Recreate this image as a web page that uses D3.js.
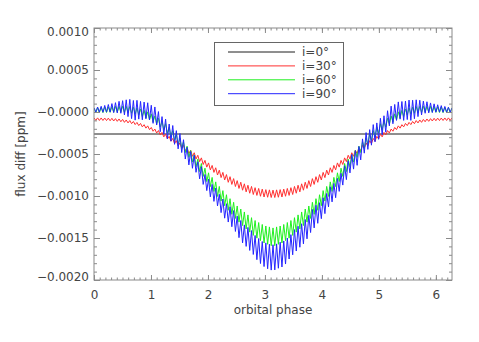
<!DOCTYPE html>
<html><head><meta charset="utf-8">
<script src="https://cdn.jsdelivr.net/npm/d3@7"></script>
<style>body{margin:0;background:#fff} svg{display:block}</style>
</head><body>
<svg id="c" width="479" height="342"></svg>
<script>
// values of the three rippled curves are in units of 1e-4 (flux diff)
const UNIT = 1e-4;
const yTickValues = [0.0010, 0.0005, 0, -0.0005, -0.0010, -0.0015, -0.0020];
const yTickLabels = ["0.0010", "0.0005", "\u22120.0000", "\u22120.0005", "\u22120.0010", "\u22120.0015", "\u22120.0020"];
const xTickValues = [0, 1, 2, 3, 4, 5, 6];
const xTickLabels = ["0", "1", "2", "3", "4", "5", "6"];
const seriesNames = ["i=0\u00b0", "i=30\u00b0", "i=60\u00b0", "i=90\u00b0"];
const seriesColors = ["#1e1e1e", "#ff3030", "#20f020", "#2424ff"];

const i0Phase = [0, 6.2832];
const i0 = [-2.62, -2.62];

const i30 = [
-0.70,-1.00,-0.70,-1.01,-0.71,-1.01,-0.72,-1.02,-0.73,-1.04,
-0.75,-1.07,-0.79,-1.11,-0.83,-1.16,-0.88,-1.23,-0.95,-1.30,
-1.02,-1.39,-1.13,-1.50,-1.24,-1.62,-1.36,-1.77,-1.51,-1.92,
-1.65,-2.10,-1.84,-2.29,-2.03,-2.50,-2.21,-2.72,-2.43,-2.96,
-2.64,-3.21,-2.90,-3.48,-3.15,-3.75,-3.41,-4.04,-3.69,-4.33,
-3.96,-4.64,-4.25,-4.96,-4.55,-5.27,-4.85,-5.59,-5.15,-5.91,
-5.46,-6.25,-5.76,-6.56,-6.06,-6.89,-6.36,-7.19,-6.64,-7.50,
-6.92,-7.81,-7.19,-8.09,-7.45,-8.37,-7.70,-8.62,-7.93,-8.87,
-8.17,-9.10,-8.36,-9.31,-8.55,-9.51,-8.72,-9.67,-8.86,-9.82,
-9.01,-9.93,-9.10,-10.03,-9.18,-10.12,-9.24,-10.15,-9.27,-10.18,
-9.30,
-10.18,-9.27,-10.15,-9.24,-10.12,-9.18,-10.03,-9.10,-9.93,-9.01,
-9.82,-8.86,-9.67,-8.72,-9.51,-8.55,-9.31,-8.36,-9.10,-8.17,
-8.87,-7.93,-8.62,-7.70,-8.37,-7.45,-8.09,-7.19,-7.81,-6.92,
-7.50,-6.64,-7.19,-6.36,-6.89,-6.06,-6.56,-5.76,-6.25,-5.46,
-5.91,-5.15,-5.59,-4.85,-5.27,-4.55,-4.96,-4.25,-4.64,-3.96,
-4.33,-3.69,-4.04,-3.41,-3.75,-3.15,-3.48,-2.90,-3.21,-2.64,
-2.96,-2.43,-2.72,-2.21,-2.50,-2.03,-2.29,-1.84,-2.10,-1.65,
-1.92,-1.51,-1.77,-1.36,-1.62,-1.24,-1.50,-1.13,-1.39,-1.02,
-1.30,-0.95,-1.23,-0.88,-1.16,-0.83,-1.11,-0.79,-1.07,-0.75,
-1.04,-0.73,-1.02,-0.72,-1.01,-0.71,-1.01,-0.70,-1.00,-0.70
];

const i60 = [
0.50,-0.09,0.52,-0.08,0.54,-0.07,0.58,-0.06,0.61,-0.04,
0.64,-0.03,0.67,-0.03,0.68,-0.02,0.69,-0.05,0.67,-0.09,
0.65,-0.15,0.57,-0.25,0.49,-0.35,0.36,-0.54,0.19,-0.72,
0.02,-0.94,-0.22,-1.20,-0.47,-1.46,-0.75,-1.79,-1.07,-2.13,
-1.39,-2.52,-1.81,-2.95,-2.22,-3.38,-2.65,-3.85,-3.10,-4.31,
-3.55,-4.83,-4.07,-5.40,-4.58,-5.96,-5.10,-6.52,-5.61,-7.09,
-6.13,-7.67,-6.69,-8.28,-7.24,-8.88,-7.79,-9.46,-8.32,-10.05,
-8.86,-10.61,-9.36,-11.16,-9.85,-11.70,-10.32,-12.18,-10.75,-12.67,
-11.19,-13.11,-11.55,-13.52,-11.90,-13.92,-12.25,-14.30,-12.58,-14.69,
-12.92,-15.02,-13.16,-15.31,-13.39,-15.59,-13.57,-15.75,-13.68,-15.92,
-13.80,
-15.92,-13.68,-15.75,-13.57,-15.59,-13.39,-15.31,-13.16,-15.02,-12.92,
-14.69,-12.58,-14.30,-12.25,-13.92,-11.90,-13.52,-11.55,-13.11,-11.19,
-12.67,-10.75,-12.18,-10.32,-11.70,-9.85,-11.16,-9.36,-10.61,-8.86,
-10.05,-8.32,-9.46,-7.79,-8.88,-7.24,-8.28,-6.69,-7.67,-6.13,
-7.09,-5.61,-6.52,-5.10,-5.96,-4.58,-5.40,-4.07,-4.83,-3.55,
-4.31,-3.10,-3.85,-2.65,-3.38,-2.22,-2.95,-1.81,-2.52,-1.39,
-2.13,-1.07,-1.79,-0.75,-1.46,-0.47,-1.20,-0.22,-0.94,0.02,
-0.72,0.19,-0.54,0.36,-0.35,0.49,-0.25,0.57,-0.15,0.65,
-0.09,0.67,-0.05,0.69,-0.02,0.68,-0.03,0.67,-0.03,0.64,
-0.04,0.61,-0.06,0.58,-0.07,0.54,-0.08,0.52,-0.09,0.50
];

const i90 = [
0.50,-0.01,0.59,-0.01,0.68,-0.03,0.78,-0.01,0.89,-0.01,
1.00,-0.07,1.11,-0.11,1.27,-0.15,1.35,-0.35,1.45,-0.55,
1.50,-0.79,1.37,-0.97,1.39,-0.85,1.26,-0.93,1.18,-0.81,
1.10,-0.95,0.80,-1.35,0.60,-1.55,0.05,-2.35,-0.55,-2.65,
-0.85,-3.19,-1.43,-3.47,-1.61,-3.85,-2.22,-4.39,-2.56,-4.83,
-3.30,-5.60,-4.20,-6.30,-4.70,-6.70,-5.14,-7.18,-5.92,-7.96,
-6.50,-8.62,-7.44,-9.36,-7.98,-10.10,-8.62,-10.64,-9.06,-11.18,
-9.80,-11.98,-10.36,-12.64,-10.92,-13.10,-11.28,-13.66,-11.74,-14.22,
-12.40,-14.96,-12.92,-15.58,-13.44,-16.00,-13.74,-16.48,-14.12,-16.96,
-14.70,-17.58,-15.06,-18.04,-15.42,-18.40,-15.58,-18.66,-15.74,-18.82,
-15.80,
-18.80,-15.70,-18.60,-15.50,-18.45,-15.35,-18.10,-15.00,-17.50,-14.60,
-17.00,-14.00,-16.55,-13.60,-16.10,-13.30,-15.70,-12.80,-15.10,-12.30,
-14.35,-11.60,-13.80,-11.10,-13.25,-10.80,-12.70,-10.20,-12.10,-9.70,
-11.30,-8.90,-10.70,-8.50,-10.20,-7.90,-9.45,-7.30,-8.70,-6.40,
-8.05,-5.80,-7.25,-5.05,-6.80,-4.60,-6.35,-4.10,-5.70,-3.20,
-4.90,-2.45,-4.45,-2.10,-3.95,-1.50,-3.55,-1.30,-3.25,-0.75,
-2.70,-0.45,-2.40,0.15,-1.65,0.70,-1.40,0.90,-1.00,1.20,
-0.85,1.25,-1.00,1.30,-0.90,1.42,-1.00,1.40,-0.80,1.45,
-0.55,1.40,-0.35,1.30,-0.15,1.22,-0.10,1.08,-0.06,0.97,
-0.02,0.86,-0.01,0.76,-0.03,0.66,-0.01,0.57,-0.01,0.48
];

const M = { left: 94, right: 452, top: 28, bottom: 280 };
const svg = d3.select("#c");
const FONT = "'DejaVu Sans', sans-serif";
const TXT = "#444";
const AX = "#8a8a8a";

const x = d3.scaleLinear().domain([0, 2 * Math.PI]).range([M.left, M.right]);
const y = d3.scaleLinear().domain([-0.0020, 0.0010]).range([M.bottom, M.top]);
const sampleIdx = d3.scaleLinear().domain([0, i30.length - 1]).range([0, 2 * Math.PI]);

svg.append("defs").append("clipPath").attr("id", "clip")
  .append("rect").attr("x", M.left).attr("y", M.top).attr("width", M.right - M.left).attr("height", M.bottom - M.top);

const plot = svg.append("g").attr("clip-path", "url(#clip)");

const line0 = d3.line().x((d, i) => x(i0Phase[i])).y(d => y(d * UNIT));
plot.append("path").datum(i0).attr("d", line0)
  .attr("fill", "none").attr("stroke", seriesColors[0]).attr("stroke-width", 1);

const rippled = [i30, i60, i90];
rippled.forEach((arr, s) => {
  const ln = d3.line().x((d, i) => x(sampleIdx(i))).y(d => y(d * UNIT));
  plot.append("path").datum(arr).attr("d", ln)
    .attr("fill", "none").attr("stroke", seriesColors[s + 1])
    .attr("stroke-width", 1).attr("stroke-linejoin", "miter");
});

function styleAxis(g) {
  g.select(".domain").remove();
  g.selectAll(".tick line").attr("stroke", AX).attr("stroke-width", 1);
  g.selectAll("text").attr("fill", TXT).style("font-family", FONT).style("font-size", "12px");
}
const xMinor = d3.range(0, 6.3, 0.1);
const yMinor = d3.range(-0.0020, 0.00101, 0.0001);

svg.append("g").attr("transform", `translate(0,${M.bottom})`)
  .call(d3.axisBottom(x).tickValues(xMinor).tickSize(-2.5).tickFormat("")).call(styleAxis);
svg.append("g").attr("transform", `translate(0,${M.top})`)
  .call(d3.axisTop(x).tickValues(xMinor).tickSize(-2.5).tickFormat("")).call(styleAxis);
svg.append("g").attr("transform", `translate(${M.left},0)`)
  .call(d3.axisLeft(y).tickValues(yMinor).tickSize(-3).tickFormat("")).call(styleAxis);
svg.append("g").attr("transform", `translate(${M.right},0)`)
  .call(d3.axisRight(y).tickValues(yMinor).tickSize(-3).tickFormat("")).call(styleAxis);

svg.append("g").attr("transform", `translate(0,${M.bottom})`)
  .call(d3.axisBottom(x).tickValues(xTickValues).tickSize(-5).tickPadding(10)
    .tickFormat((d, i) => xTickLabels[i])).call(styleAxis);
svg.append("g").attr("transform", `translate(0,${M.top})`)
  .call(d3.axisTop(x).tickValues(xTickValues).tickSize(-5).tickFormat("")).call(styleAxis);
const yAx = svg.append("g").attr("transform", `translate(${M.left},0)`)
  .call(d3.axisLeft(y).tickValues(yTickValues).tickSize(-6).tickPadding(5)
    .tickFormat((d, i) => yTickLabels[i])).call(styleAxis);
yAx.selectAll(".tick text").attr("dy", (d, i) => i === 0 ? "0.62em" : (i === yTickValues.length - 1 ? "0.05em" : "0.32em"));
svg.append("g").attr("transform", `translate(${M.right},0)`)
  .call(d3.axisRight(y).tickValues(yTickValues).tickSize(-6).tickFormat("")).call(styleAxis);

svg.append("rect").attr("x", M.left).attr("y", M.top).attr("width", M.right - M.left).attr("height", M.bottom - M.top)
  .attr("fill", "none").attr("stroke", AX).attr("stroke-width", 1);

svg.append("text").attr("x", (M.left + M.right) / 2).attr("y", 314).attr("text-anchor", "middle")
  .attr("fill", TXT).style("font-family", FONT).style("font-size", "12px").text("orbital phase");
svg.append("text").attr("transform", `translate(25,${(M.top + M.bottom) / 2}) rotate(-90)`)
  .attr("text-anchor", "middle").attr("fill", TXT).style("font-family", FONT).style("font-size", "12px")
  .text("flux diff [ppm]");

const lg = svg.append("g");
lg.append("rect").attr("x", 214.5).attr("y", 42.5).attr("width", 129).attr("height", 63)
  .attr("fill", "#fff").attr("stroke", "#666").attr("stroke-width", 1);
seriesNames.forEach((nm, i) => {
  const yy = 52 + i * 13.9;
  lg.append("line").attr("x1", 228).attr("x2", 295).attr("y1", yy).attr("y2", yy)
    .attr("stroke", seriesColors[i]).attr("stroke-width", 1);
  lg.append("text").attr("x", 302).attr("y", yy).attr("dy", "0.35em")
    .attr("fill", TXT).style("font-family", FONT).style("font-size", "12px").text(nm);
});
</script>
</body></html>
